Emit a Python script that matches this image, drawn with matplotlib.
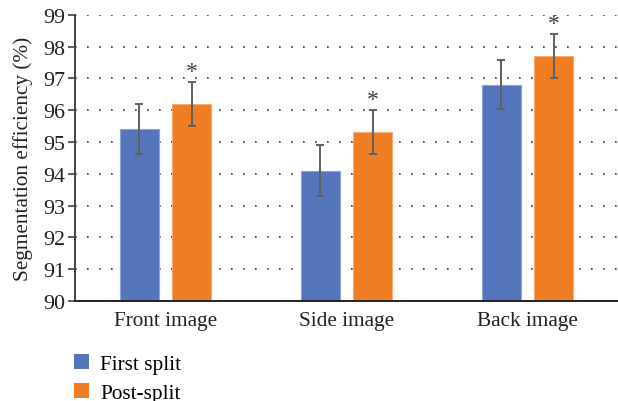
import numpy as np
import matplotlib
matplotlib.use('Agg')
import matplotlib.pyplot as plt
from matplotlib.patches import Patch

# chart data
categories = ['Front image', 'Side image', 'Back image']
first_split = [95.4, 94.1, 96.8]
first_err = [0.78, 0.8, 0.78]
post_split = [96.2, 95.3, 97.7]
post_err = [0.7, 0.69, 0.7]

blue = '#5474BC'
orange = '#EE7D24'

plt.rcParams['font.family'] = ['Liberation Serif', 'DejaVu Serif']
fs = 15.3

fig = plt.figure(figsize=(6.18, 4.02), dpi=100)
ax = fig.add_axes([75 / 618, 1 - 302 / 402, 1 - 75 / 618, (302 - 15.7) / 402])

x = np.arange(len(categories))
w = 0.22
off = 0.144
err_kw = dict(ecolor='#606060', elinewidth=1.4, capsize=3, capthick=1.4)
ax.bar(x - off, first_split, w, color=blue, edgecolor='#8ea3d6', linewidth=0.8,
       yerr=first_err, error_kw=err_kw, zorder=3)
ax.bar(x + off, post_split, w, color=orange, edgecolor='#f5ab72', linewidth=0.8,
       yerr=post_err, error_kw=err_kw, zorder=3)

# significance marks
for xi, v, e in zip(x + off, post_split, post_err):
    ax.annotate('*', (xi, v + e), xytext=(0, 0), textcoords='offset points',
                ha='center', va='bottom', fontsize=17, color='#404040')

ax.set_xlim(-0.5, 2.5)
ax.set_ylim(90, 99)
ax.set_yticks(range(90, 100))
ax.set_xticks(x)
ax.set_xticklabels(categories)
ax.tick_params(axis='x', length=0, labelsize=fs, pad=7, colors='#222222')
ax.tick_params(axis='y', length=5, width=1.2, labelsize=fs + 0.5, pad=2,
               color='#404040', labelcolor='#222222')
ax.set_ylabel('Segmentation efficiency (%)', fontsize=fs, color='#222222', labelpad=7)

ax.grid(axis='y', linestyle=(0, (1, 6.2)), color='#333333', linewidth=1.2, zorder=0)
for s in ['top', 'right']:
    ax.spines[s].set_visible(False)
ax.spines['left'].set_color('#404040')
ax.spines['left'].set_linewidth(1.4)
ax.spines['bottom'].set_color('#222222')
ax.spines['bottom'].set_linewidth(1.4)
ax.spines['bottom'].set_zorder(4)

handles = [Patch(facecolor=blue, label='First split'),
           Patch(facecolor=orange, label='Post-split')]
fig.legend(handles=handles, loc='upper left', bbox_to_anchor=(74 / 618, 1 - 355 / 402),
           frameon=False, fontsize=fs, handlelength=0.72, handleheight=0.72,
           handletextpad=0.5, labelspacing=0.4, borderpad=0, borderaxespad=0)

fig.savefig('out.png', dpi=100)
